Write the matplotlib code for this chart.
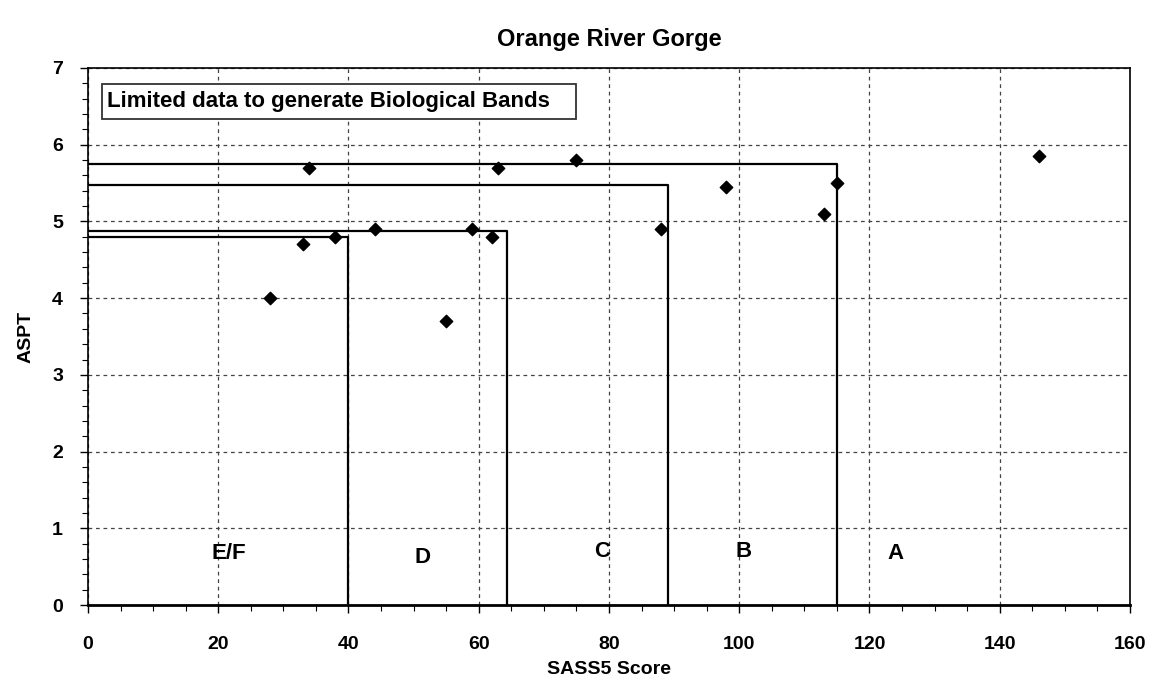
import numpy as np
import matplotlib
matplotlib.use("Agg")
from matplotlib import pyplot as plt
from matplotlib.patches import Rectangle

plt.rcParams['font.family'] = ['Liberation Sans', 'DejaVu Sans']
plt.rcParams['font.weight'] = 'bold'

# site samples
sass5 = [28, 33, 34, 38, 44, 55, 59, 62, 63, 75, 88, 98, 113, 115, 146]
aspt = [4.0, 4.7, 5.7, 4.8, 4.9, 3.7, 4.9, 4.8, 5.7, 5.8, 4.9, 5.45, 5.1, 5.5, 5.85]

# band boundaries (SASS5 limit, ASPT limit)
band_sass = [115, 89, 64.3, 40]
band_aspt = [5.75, 5.47, 4.87, 4.8]

band_names = ["E/F", "D", "C", "B", "A"]
name_x = [21.7, 51.4, 79, 100.6, 124]
name_y = [0.67, 0.62, 0.7, 0.7, 0.67]

fig = plt.figure(figsize=(11.53, 6.98), dpi=100)
ax = fig.add_axes([0.0763, 0.1332, 0.9037, 0.7694])

ax.grid(True, color='#444444', linestyle=(0, (3, 3)), linewidth=0.9)
ax.set_axisbelow(True)

for sx, sy in zip(band_sass, band_aspt):
    ax.plot([0, sx, sx], [sy, sy, 0], color='black', linewidth=1.6, zorder=3)

ax.scatter(sass5, aspt, marker='D', s=40, color='black', zorder=4)

for name, x, y in zip(band_names, name_x, name_y):
    ax.text(x, y, name, fontsize=16, fontweight='bold', ha='center', va='center')

# note box
ax.add_patch(Rectangle((2.15, 6.33), 72.8, 0.46, facecolor='white',
                       edgecolor='#333333', linewidth=1.3, zorder=5))
ax.text(2.9, 6.56, "Limited data to generate Biological Bands", fontsize=16,
        fontweight='bold', va='center', ha='left', zorder=6)

ax.set_xlim(0, 160)
ax.set_ylim(0, 7)
ax.set_xticks(np.arange(0, 161, 20))
ax.set_yticks(np.arange(0, 8, 1))
ax.set_xticks(np.arange(0, 161, 5), minor=True)
ax.set_yticks(np.arange(0, 7.01, 0.2), minor=True)
ax.tick_params(axis='both', which='major', labelsize=14, length=6, width=1, direction='out')
ax.tick_params(axis='both', which='minor', length=4, width=0.8, direction='out')
ax.tick_params(axis='x', pad=16)
ax.tick_params(axis='y', pad=12)
for lbl in ax.get_xticklabels() + ax.get_yticklabels():
    lbl.set_fontweight('bold')
for sp in ax.spines.values():
    sp.set_linewidth(1.2)
ax.spines['bottom'].set_linewidth(2)

ax.set_xlabel("SASS5 Score", fontsize=14, fontweight='bold', labelpad=6)
ax.set_ylabel("ASPT", fontsize=14, fontweight='bold', labelpad=13)
ax.set_title("Orange River Gorge", fontsize=17, fontweight='bold', pad=16)

plt.savefig("out.png", dpi=100)
